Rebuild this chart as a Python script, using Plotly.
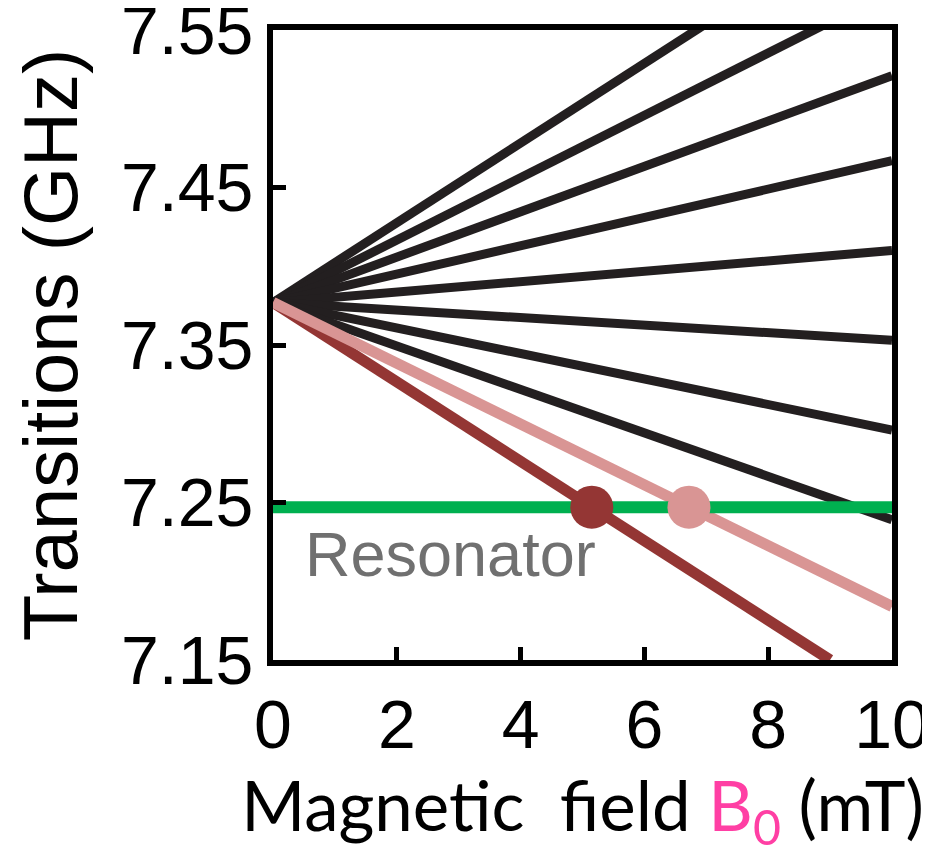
import plotly.graph_objects as go

# ---- data ----
field_start = 0.0
freq_start = 7.377
# end points of the black transition lines (x end, y end)
black_x_end = [10, 10, 10, 10, 10, 10, 10, 10]
black_y_end = [7.630, 7.575, 7.521, 7.467, 7.410, 7.353, 7.296, 7.239]
# highlighted transitions
darkred_x_end = 9.0
darkred_y_end = 7.150
pink_x_end = 10.0
pink_y_end = 7.184
# resonator
resonator_x = [0, 10]
resonator_y = [7.247, 7.247]
# crossing points
cross_x = [5.15, 6.72]
cross_y = [7.247, 7.247]
cross_colors = ["#943634", "#d99594"]

x_ticks = [0, 2, 4, 6, 8, 10]
y_ticks = [7.15, 7.25, 7.35, 7.45, 7.55]
y_ticklabels = ["7.15", "7.25", "7.35", "7.45", "7.55"]

fig = go.Figure()

for xe, ye in zip(black_x_end, black_y_end):
    fig.add_trace(go.Scatter(x=[field_start, xe], y=[freq_start, ye], mode="lines",
                             line=dict(color="#231f20", width=9), showlegend=False, hoverinfo="skip"))

fig.add_trace(go.Scatter(x=[field_start, darkred_x_end], y=[freq_start, darkred_y_end], mode="lines",
                         line=dict(color="#943634", width=11), showlegend=False))
fig.add_trace(go.Scatter(x=[field_start, pink_x_end], y=[freq_start, pink_y_end], mode="lines",
                         line=dict(color="#d99594", width=11), showlegend=False))
fig.add_trace(go.Scatter(x=resonator_x, y=resonator_y, mode="lines",
                         line=dict(color="#00b050", width=12), showlegend=False))
fig.add_trace(go.Scatter(x=cross_x, y=cross_y, mode="markers",
                         marker=dict(color=cross_colors, size=43, line=dict(width=0)),
                         showlegend=False, cliponaxis=False))

fig.add_annotation(x=0.48, y=7.217, xref="x", yref="y", text="Resonator", showarrow=False,
                   xanchor="left", yanchor="middle",
                   font=dict(family="Liberation Sans, Arial", size=63, color="#707070"))

fig.update_xaxes(range=[0, 10], tickvals=x_ticks, ticks="inside", ticklen=13, tickwidth=5,
                 tickcolor="black", showline=True, linewidth=6, linecolor="black", mirror=True,
                 showgrid=False, zeroline=False, automargin=False, ticklabeloverflow="allow",
                 tickfont=dict(family="Liberation Sans, Arial", size=68, color="black"),
                 title=dict(text="Magnetic  field <span style='color:#ff3fa4'>B<sub>0</sub></span> (mT)",
                            font=dict(family="Lato, Open Sans", size=69, color="black"), standoff=24))
fig.update_yaxes(range=[7.15, 7.55], tickvals=y_ticks, ticktext=y_ticklabels, ticks="inside",
                 ticklen=13, tickwidth=5, tickcolor="black", showline=True, linewidth=6,
                 linecolor="black", mirror=True, showgrid=False, zeroline=False, automargin=False,
                 ticklabeloverflow="allow",
                 tickfont=dict(family="Liberation Sans, Arial", size=68, color="black"),
                 title=dict(text="Transitions (GHz)",
                            font=dict(family="Liberation Sans, Arial", size=76, color="black"), standoff=32))

# the page adds an 8px body margin, so the figure is sized/margined to compensate
fig.update_layout(width=922, height=849, margin=dict(l=265, r=38, t=22, b=197),
                  plot_bgcolor="white", paper_bgcolor="white")

fig.write_html("out.html")
